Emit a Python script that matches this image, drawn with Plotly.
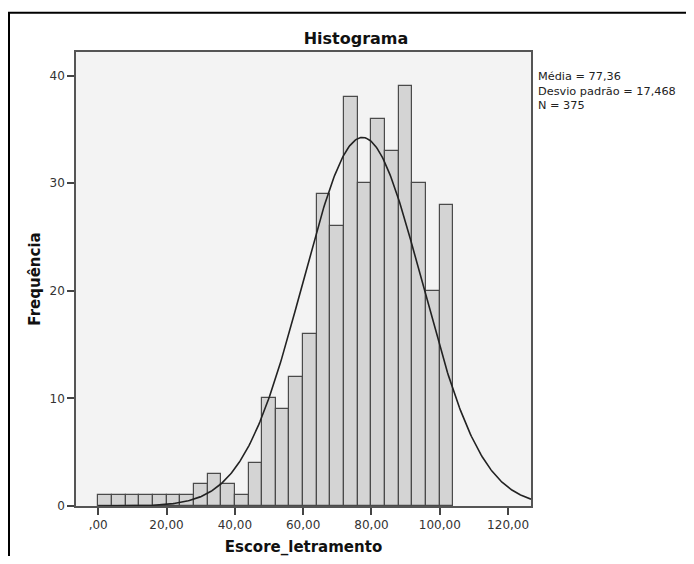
import numpy as np
import plotly.graph_objects as go

# Data
bin_starts = [0, 4, 8, 12, 16, 20, 24, 28, 32, 36, 40, 44, 48, 52, 56, 60,
              64, 68, 72, 76, 80, 84, 88, 92, 96, 100]
counts = [1, 1, 1, 1, 1, 1, 1, 2, 3, 2, 1, 4, 10, 9, 12, 16,
          29, 26, 38, 30, 36, 33, 39, 30, 20, 28]
bin_width = 4
mean_val = 77.36
sd_val = 17.468
n_val = 375
x_tick_vals = [0, 20, 40, 60, 80, 100, 120]
x_tick_text = [",00", "20,00", "40,00", "60,00", "80,00", "100,00", "120,00"]
y_tick_vals = [0, 10, 20, 30, 40]
stats_lines = ["Média = 77,36", "Desvio padrão = 17,468", "N = 375"]

FONT = "DejaVu Sans"
W, H = 678, 548          # page adds 8px body margin on every side
L, R, T, B = 68, 155, 44, 50
PW, PH = W - L - R, H - T - B

fig = go.Figure()
fig.add_trace(go.Bar(
    x=[s + bin_width / 2 for s in bin_starts], y=counts, width=bin_width,
    marker=dict(color="#d4d4d4", line=dict(color="#4a4a4a", width=1.2)),
    hoverinfo="x+y", showlegend=False))

# Normal curve from the stated mean, sd and N
xc = np.linspace(0, 126.7, 400)
yc = n_val * bin_width / (sd_val * np.sqrt(2 * np.pi)) * np.exp(-0.5 * ((xc - mean_val) / sd_val) ** 2)
fig.add_trace(go.Scatter(x=xc, y=yc, mode="lines",
                         line=dict(color="#222222", width=1.6), showlegend=False,
                         hoverinfo="skip"))

fig.update_layout(
    width=W, height=H,
    margin=dict(l=L, r=R, t=T, b=B, autoexpand=False),
    paper_bgcolor="white", plot_bgcolor="#f3f3f3",
    bargap=0,
    font=dict(family=FONT, color="#222222"),
    title=dict(text="<b>Histograma</b>", x=348 / W, xanchor="center", y=1 - 30 / H,
               yanchor="middle", font=dict(size=16, color="#111111", family=FONT)),
    xaxis=dict(range=[-6.5, 126.7], tickvals=x_tick_vals, ticktext=x_tick_text,
               automargin=False,
               ticks="outside", ticklen=7, tickwidth=1.5, tickcolor="#444444",
               showgrid=False, zeroline=False, showline=True, linecolor="#555555",
               linewidth=1.5, mirror=True,
               tickfont=dict(size=12, color="#333333"),
               title=dict(text="<b>Escore_letramento</b>", standoff=11,
                          font=dict(size=15, color="#111111"))),
    yaxis=dict(range=[0, 42.2], tickvals=y_tick_vals,
               automargin=False,
               ticks="outside", ticklen=7, tickwidth=1.5, tickcolor="#444444",
               showgrid=False, zeroline=False, showline=True, linecolor="#555555",
               linewidth=1.5, mirror=True,
               tickfont=dict(size=12, color="#333333"),
               title=dict(text="<b>Frequência</b>", standoff=5,
                          font=dict(size=15, color="#111111"))),
)

fig.add_annotation(
    xref="paper", yref="paper", x=461 / PW, y=1 - 39 / PH,
    xanchor="left", yanchor="middle", align="left", showarrow=False,
    borderpad=0, text="<br>".join(stats_lines),
    font=dict(size=11.3, color="#222222", family=FONT))

# outer frame
fig.add_shape(type="rect", xref="paper", yref="paper",
              x0=-L / PW + 1 / PW, x1=(W + 20 - L) / PW,
              y0=-(B + 20) / PH, y1=1 + (T - 4.7) / PH,
              line=dict(color="black", width=2), layer="below")

fig.write_html("out.html")
